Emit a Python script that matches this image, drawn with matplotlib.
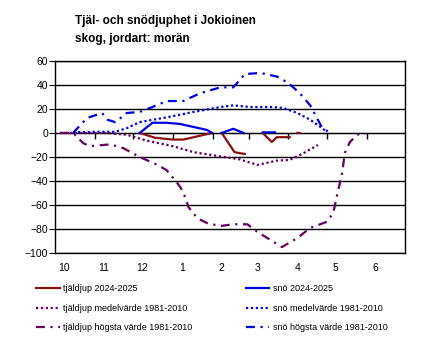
import matplotlib
matplotlib.use("Agg")
import matplotlib.pyplot as plt
import numpy as np

plt.rcParams['font.family'] = ['Liberation Sans', 'DejaVu Sans']

# dagar räknat från 1 oktober
month_starts = [0, 31, 61, 92, 123, 151, 182, 212, 243, 273]
month_labels = ['10', '11', '12', '1', '2', '3', '4', '5', '6']

# tjäldjup 2024-2025 (nan = avbrott)
tjal_days = [66, 78, 92, 100, 122.5, np.nan, 130, 140, 148, np.nan, 162, 169, 173, 183, np.nan, 189, 191]
tjal_vals = [0, -4, -5.5, -5.5, 0, np.nan, 0, -16, -17.5, np.nan, 0, -7.5, -3.5, -3.5, np.nan, 0, 0]

# snö 2024-2025
sno_days = [66, 76, 87, 97.5, 118.5, 122.5, np.nan, 130, 139, 147, np.nan, 162, 171.6]
sno_vals = [0, 8.5, 8.5, 7.5, 2.5, 0, np.nan, 0, 3.5, 0, np.nan, 0.5, 0.5]

# tjäldjup medelvärde 1981-2010
tjal_med_days = [4, 19.5, 40.5, 56, 72, 92, 108, 123, 144, 158, 173, 183, 193.5, 205]
tjal_med_vals = [0, 0, 0, -1.5, -6.5, -11, -16, -18.5, -22, -26.6, -23, -22.5, -17, -10]

# snö medelvärde 1981-2010
sno_med_days = [14, 30, 47, 56, 66, 87, 108, 129, 139, 152, 170, 178, 189, 199, 207, 212]
sno_med_vals = [0.5, 1, 1, 4, 9, 13, 17.5, 21.6, 23, 21.6, 21.6, 20.8, 16.6, 11, 5, 1]

# tjäldjup högsta värde 1981-2010
tjal_max_days = [4, 14, 22, 27, 43, 53, 66, 80, 87, 95, 100, 104, 111, 118.6, 128.7, 139, 150,
                 158, 168, 177, 189, 199, 212, 217, 220, 224, 226, 230, 235.6, 239.5]
tjal_max_vals = [0, 0, -8.5, -11, -9.5, -12.5, -20, -26.6, -31, -41, -49, -61.6, -71, -75, -77.5, -76, -76,
                 -82.5, -89, -95, -87.5, -79, -74, -66.6, -51.6, -33, -16.6, -7.5, -1.6, 0]

# snö högsta värde 1981-2010
sno_max_days = [14, 25, 36.7, 41, 47, 56, 66, 76, 87, 100, 113, 129, 139, 144, 148, 160, 173,
                182, 191, 199, 204, 208, 213]
sno_max_vals = [0, 12.5, 16.6, 11, 9, 16.6, 17.5, 21.6, 26.6, 26.6, 33, 38, 38, 44, 49, 50, 47,
                41.6, 33, 23, 13, 5, 1]

red = '#8b1010'
blue = '#0000e6'
purple = '#660066'
dot = (0, (1, 1.2))
dashdot = (0, (4, 2.5, 1, 2.5))
lw = 1.6

fig = plt.figure(figsize=(4.3, 3.52), dpi=100)
ax = fig.add_axes([0.128, 0.281, 0.814, 0.546])

ax.set_ylim(-100, 60)
ax.set_xlim(0, 273)
ax.set_yticks(range(-100, 61, 20))
ax.yaxis.grid(True, color='black', linewidth=1)
ax.set_axisbelow(True)
for s in ax.spines.values():
    s.set_linewidth(1)

l1, = ax.plot(tjal_days, tjal_vals, color=red, lw=lw, label='tjäldjup 2024-2025')
l2, = ax.plot(tjal_med_days, tjal_med_vals, color=purple, lw=lw, ls=dot, label='tjäldjup medelvärde 1981-2010')
l3, = ax.plot(tjal_max_days, tjal_max_vals, color=purple, lw=lw, ls=dashdot, label='tjäldjup högsta värde 1981-2010')
l4, = ax.plot(sno_days, sno_vals, color=blue, lw=lw, label='snö 2024-2025')
l5, = ax.plot(sno_med_days, sno_med_vals, color=blue, lw=lw, ls=dot, label='snö medelvärde 1981-2010')
l6, = ax.plot(sno_max_days, sno_max_vals, color=blue, lw=lw, ls=dashdot, label='snö högsta värde 1981-2010')

# månadsetiketter under diagrammet
ax.set_xticks([d + 7 for d in month_starts[:-1]])
ax.set_xticklabels(month_labels)
ax.tick_params(axis='x', length=0, pad=7, labelsize=7.5)
ax.tick_params(axis='y', length=4, labelsize=7.5, pad=1)

# månadsgränser vid nollinjen
sec = ax.secondary_xaxis(0.625)
sec.set_xticks(month_starts[1:-1])
sec.set_xticklabels([])
sec.tick_params(length=4, width=1, direction='in')
sec.spines['bottom'].set_linewidth(1)

fig.text(0.175, 0.932, 'Tjäl- och snödjuphet i Jokioinen', fontsize=8.5, fontweight='bold')
fig.text(0.175, 0.881, 'skog, jordart: morän', fontsize=8.5, fontweight='bold')

fig.legend(handles=[l1, l2, l3, l4, l5, l6], ncol=2, loc='upper left',
           bbox_to_anchor=(0.065, 0.215), frameon=False, fontsize=6.5,
           handlelength=2.6, handletextpad=0.4, columnspacing=5.9, labelspacing=1.15)

fig.savefig('out.png', dpi=100)
